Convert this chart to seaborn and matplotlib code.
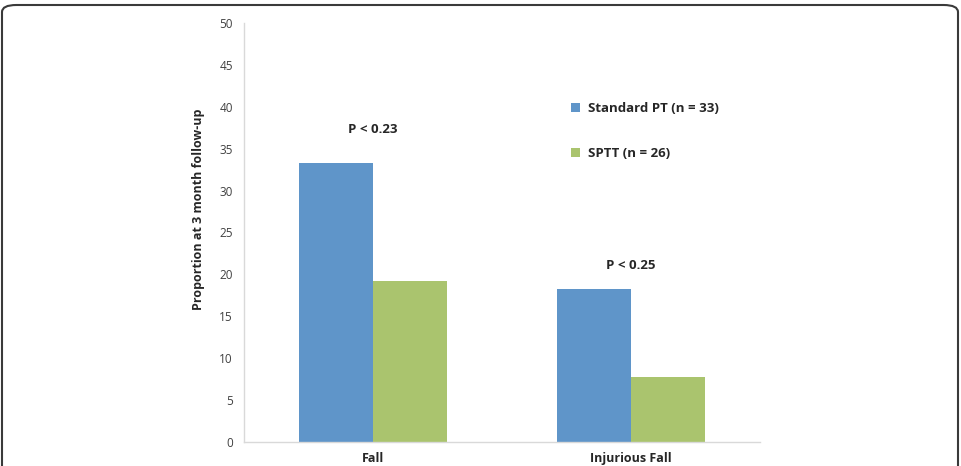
import pandas as pd
import matplotlib.pyplot as plt
import seaborn as sns
from matplotlib.patches import FancyBboxPatch, Patch

# Data
categories = ["Fall", "Injurious Fall"]
groups = ["Standard PT (n = 33)", "SPTT (n = 26)"]
standard_pt = [33.3, 18.2]
sptt = [19.2, 7.7]
p_labels = ["P < 0.23", "P < 0.25"]

df = pd.DataFrame({
    "event": categories * 2,
    "group": [groups[0]] * 2 + [groups[1]] * 2,
    "value": standard_pt + sptt,
})

sns.set_style("white")
plt.rcParams["font.family"] = ["Open Sans", "DejaVu Sans"]

colors = ["#5F95C9", "#AAC46E"]
fig = plt.figure(figsize=(9.61, 4.66), dpi=100)
ax = fig.add_axes([244 / 961, 1 - 442 / 466, 516 / 961, 419 / 466])

sns.barplot(data=df, x="event", y="value", hue="group", palette=colors,
            width=0.574, gap=0, saturation=1, legend=False, linewidth=0, ax=ax)

ax.set_ylim(0, 50)
ax.set_xlim(-0.5, 1.5)
ax.set_yticks(range(0, 51, 5))
ax.tick_params(axis="y", labelsize=8.5, colors="#404040", length=4, width=0.8, pad=4)
ax.tick_params(axis="y", color="#e0e0e0")
ax.tick_params(axis="x", length=0, pad=7)
ax.set_xticks([0.5], minor=True)
ax.tick_params(axis="x", which="minor", length=4, color="#d9d9d9")
for lbl in ax.get_xticklabels():
    lbl.set_fontweight("bold")
    lbl.set_fontsize(9)
    lbl.set_color("#262626")
ax.set_xlabel("")
ax.set_ylabel("Proportion at 3 month follow-up", fontsize=9, fontweight="bold", color="#262626")
ax.yaxis.set_label_coords(-0.075, 0.555)

for s in ["top", "right"]:
    ax.spines[s].set_visible(False)
for s in ["left", "bottom"]:
    ax.spines[s].set_color("#d9d9d9")
    ax.spines[s].set_linewidth(1)

# p-value annotations above each group
for i, (lab, top) in enumerate(zip(p_labels, [standard_pt[0] + 4.0, standard_pt[1] + 2.9])):
    ax.text(i, top, lab, ha="center", va="center", fontsize=9.5, fontweight="bold", color="#262626")

handles = [Patch(facecolor=c, edgecolor="none") for c in colors]
leg = fig.legend(handles, groups, loc="upper left", bbox_to_anchor=(559 / 961, 1 - 90 / 466),
                 frameon=False, handlelength=0.7, handleheight=0.7, handletextpad=0.6,
                 labelspacing=2.45, prop={"weight": "bold", "size": 9.5})
for t in leg.get_texts():
    t.set_color("#262626")

# rounded frame around the figure
frame = FancyBboxPatch((2 / 961, -0.2), 956 / 961, 1.2 - 5 / 466,
                       boxstyle="round,pad=0,rounding_size=0.015",
                       transform=fig.transFigure, fill=False,
                       edgecolor="#3a3a3a", linewidth=1.5, clip_on=False)
fig.patches.append(frame)

fig.savefig("out.png", dpi=100)
